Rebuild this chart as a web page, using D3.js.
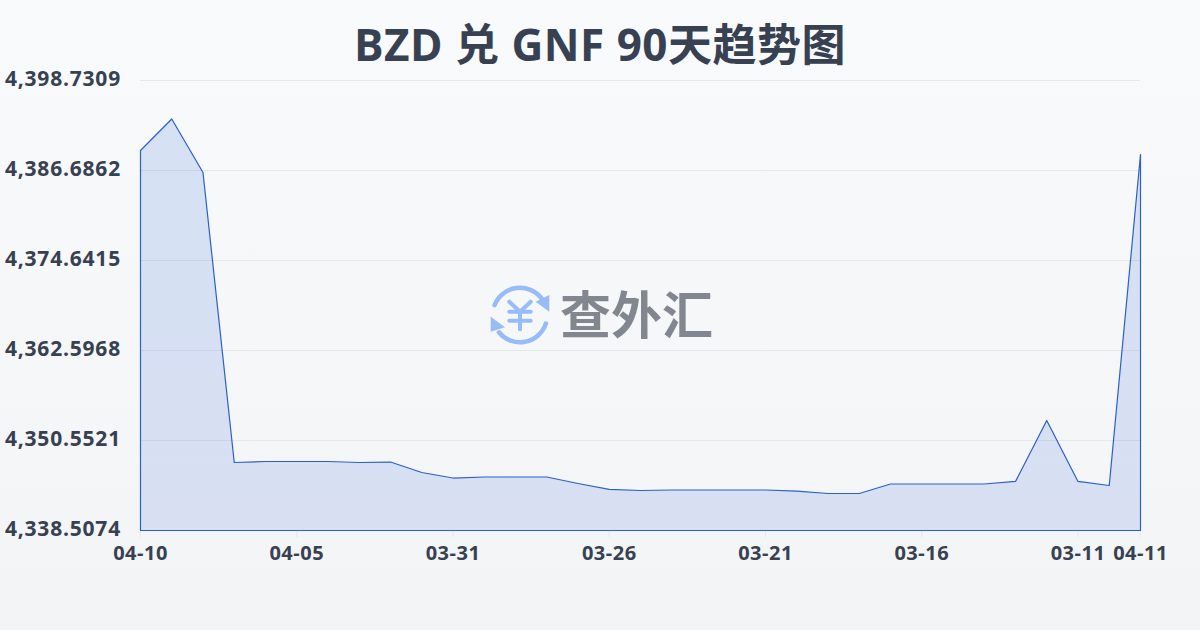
<!DOCTYPE html>
<html><head><meta charset="utf-8">
<script src="https://cdn.jsdelivr.net/npm/d3@7/dist/d3.min.js"></script>
<style>html,body{margin:0;padding:0;background:#f9fafb}svg{display:block}</style>
</head><body><div id="c"></div>
<script>
const titleText = "BZD 兑 GNF 90天趋势图";
const watermarkText = "查外汇";
const categories = ["04-10","04-09","04-08","04-07","04-06","04-05","04-04","04-03","04-02","04-01","03-31","03-30","03-29","03-28","03-27","03-26","03-25","03-24","03-23","03-22","03-21","03-20","03-19","03-18","03-17","03-16","03-15","03-14","03-13","03-12","03-11","03-10","04-11"];
const values = [4389.36,4393.58,4386.42,4347.61,4347.74,4347.74,4347.74,4347.61,4347.67,4346.27,4345.53,4345.67,4345.67,4345.67,4344.80,4344.00,4343.86,4343.93,4343.93,4343.93,4343.93,4343.79,4343.46,4343.46,4344.73,4344.73,4344.73,4344.73,4345.07,4353.23,4345.07,4344.53,4388.83];
const xLabels = ["04-10","04-05","03-31","03-26","03-21","03-16","03-11","04-11"];
const yTicks = [4338.5074,4350.5521,4362.5968,4374.6415,4386.6862,4398.7309];
const W=1200,H=630,F="'Open Sans','Noto Sans CJK SC',sans-serif";
const svg=d3.select("#c").append("svg").attr("width",W).attr("height",H);
const defs=svg.append("defs");
const bg=defs.append("linearGradient").attr("id","bg").attr("x1",0).attr("y1",0).attr("x2",0).attr("y2",1);
bg.append("stop").attr("offset",0).attr("stop-color","#f9fafc");
bg.append("stop").attr("offset",1).attr("stop-color","#f3f4f6");
const ag=defs.append("linearGradient").attr("id","ag").attr("gradientUnits","userSpaceOnUse").attr("x1",0).attr("y1",118).attr("x2",0).attr("y2",530);
ag.append("stop").attr("offset",0).attr("stop-color","#1f66d0").attr("stop-opacity",0.16);
ag.append("stop").attr("offset",1).attr("stop-color","#1d4ed8").attr("stop-opacity",0.13);
svg.append("rect").attr("width",W).attr("height",H).attr("fill","url(#bg)");
const x=d3.scalePoint().domain(categories).range([140.5,1140.5]);
const y=d3.scaleLinear().domain([yTicks[0],yTicks[5]]).range([530.5,80.5]);
svg.append("text").attr("x",600).attr("y",61).attr("text-anchor","middle").attr("font-family",F).attr("font-weight",700).attr("font-size",44).attr("letter-spacing",0.5).attr("fill","#374151").text(titleText);
svg.append("g").selectAll("line").data(yTicks.slice(1)).join("line").attr("x1",140).attr("x2",1140).attr("y1",d=>y(d)).attr("y2",d=>y(d)).attr("stroke","#e5e7eb").attr("stroke-width",1);
const fmt=d3.format(",.4f");
svg.append("g").selectAll("text").data(yTicks).join("text").attr("x",121).attr("y",d=>y(d)+5.5).attr("text-anchor","end").attr("font-family",F).attr("font-weight",700).attr("font-size",21).attr("letter-spacing",0.8).attr("fill","#374151").text(fmt);
svg.append("g").selectAll("line").data(xLabels).join("line").attr("x1",d=>x(d)).attr("x2",d=>x(d)).attr("y1",531).attr("y2",537).attr("stroke","#e5e7eb");
svg.append("g").selectAll("text").data(xLabels).join("text").attr("x",d=>x(d)).attr("y",560).attr("text-anchor","middle").attr("font-family",F).attr("font-weight",700).attr("font-size",20).attr("letter-spacing",0.5).attr("fill","#374151").text(d=>d);
const area=d3.area().x((d,i)=>x(categories[i])).y0(530.5).y1(d=>y(d));
svg.append("path").datum(values).attr("d",d=>area(d)+"").attr("fill","url(#ag)").attr("stroke","#2a5fd0").attr("stroke-width",1.2).attr("stroke-linejoin","round");
// watermark
const wm=svg.append("g").attr("opacity",0.5);
const ic=wm.append("g").attr("transform","translate(520,315)");
const arc=d3.arc().innerRadius(25).outerRadius(29.5).cornerRadius(2);
const blue="#3b82f6";
ic.append("path").attr("d",arc({startAngle:-1.28,endAngle:1.0})).attr("fill",blue);
ic.append("path").attr("d",arc({startAngle:1.81,endAngle:4.1})).attr("fill",blue);
ic.append("path").attr("d","M15.7,-13.3 L29.3,-20 L29.3,-3.3Z").attr("fill",blue);
ic.append("path").attr("d","M-29.3,1.7 L-29.3,16.7 L-15,12.3Z").attr("fill",blue);
ic.selectAll("path.y").data(["M-10.7,-13.3 L0,-3.3 L10.7,-13.3","M-10.7,-3.3 H10.7","M-10.7,5.7 H10.7","M0,-3.3 V14.3"]).join("path").attr("d",d=>d).attr("fill","none").attr("stroke",blue).attr("stroke-width",4).attr("stroke-linecap","round").attr("stroke-linejoin","round");
wm.append("text").attr("x",560).attr("y",334).attr("font-family","'Noto Sans CJK SC',sans-serif").attr("font-weight",700).attr("font-size",51).attr("fill","#111827").text(watermarkText);
</script></body></html>
